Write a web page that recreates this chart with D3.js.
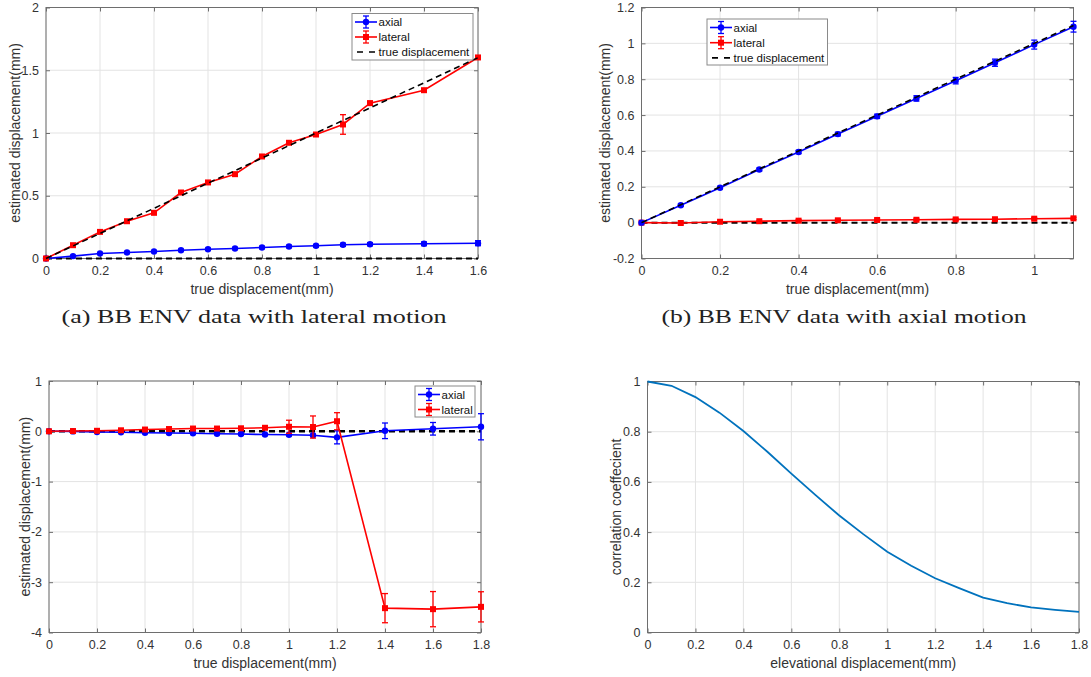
<!DOCTYPE html>
<html>
<head>
<meta charset="utf-8">
<script src="https://cdn.jsdelivr.net/npm/d3@7"></script>
<style>
  html, body { margin: 0; padding: 0; background: #fff; }
  svg { display: block; }
  text { font-family: "Liberation Sans", Arial, sans-serif; }
</style>
</head>
<body>
<svg id="fig" width="1091" height="677"></svg>
<script>
// ---- (a) lateral motion ----
const xA = [0, 0.1, 0.2, 0.3, 0.4, 0.5, 0.6, 0.7, 0.8, 0.9, 1.0, 1.1, 1.2, 1.4, 1.6];
const axialA = [0, 0.019, 0.040, 0.048, 0.056, 0.066, 0.074, 0.080, 0.088, 0.096, 0.101, 0.109, 0.114, 0.117, 0.122];
const axialErrA = [0, 0.005, 0.006, 0.006, 0.007, 0.007, 0.008, 0.008, 0.009, 0.009, 0.010, 0.012, 0.012, 0.015, 0.02];
const lateralA = [0, 0.106, 0.212, 0.297, 0.364, 0.526, 0.606, 0.672, 0.813, 0.922, 0.988, 1.068, 1.238, 1.341, 1.602];
const lateralErrA = [0, 0.008, 0.008, 0.008, 0.008, 0.01, 0.01, 0.01, 0.01, 0.012, 0.012, 0.078, 0.015, 0.012, 0.01];
const trueA = [0, 0.1, 0.2, 0.3, 0.4, 0.5, 0.6, 0.7, 0.8, 0.9, 1.0, 1.1, 1.2, 1.4, 1.6];
const zeroA = [0, 0, 0, 0, 0, 0, 0, 0, 0, 0, 0, 0, 0, 0, 0];
const xTicksA = [0, 0.2, 0.4, 0.6, 0.8, 1, 1.2, 1.4, 1.6];
const yTicksA = [0, 0.5, 1, 1.5, 2];

// ---- (b) axial motion ----
const xB = [0, 0.1, 0.2, 0.3, 0.4, 0.5, 0.6, 0.7, 0.8, 0.9, 1.0, 1.1];
const axialB = [0, 0.097, 0.195, 0.296, 0.394, 0.494, 0.593, 0.693, 0.792, 0.892, 0.993, 1.093];
const axialErrB = [0, 0.006, 0.007, 0.008, 0.009, 0.010, 0.012, 0.015, 0.018, 0.020, 0.025, 0.030];
const lateralB = [0, -0.002, 0.005, 0.008, 0.011, 0.013, 0.015, 0.016, 0.018, 0.019, 0.022, 0.024];
const lateralErrB = [0, 0.004, 0.004, 0.004, 0.005, 0.005, 0.005, 0.005, 0.005, 0.006, 0.006, 0.006];
const trueB = [0, 0.1, 0.2, 0.3, 0.4, 0.5, 0.6, 0.7, 0.8, 0.9, 1.0, 1.1];
const zeroB = [0, 0, 0, 0, 0, 0, 0, 0, 0, 0, 0, 0];
const xTicksB = [0, 0.2, 0.4, 0.6, 0.8, 1];
const yTicksB = [-0.2, 0, 0.2, 0.4, 0.6, 0.8, 1, 1.2];

// ---- (c) elevational motion ----
const xC = [0, 0.1, 0.2, 0.3, 0.4, 0.5, 0.6, 0.7, 0.8, 0.9, 1.0, 1.1, 1.2, 1.4, 1.6, 1.8];
const axialC = [0, -0.002, -0.015, -0.020, -0.028, -0.035, -0.040, -0.048, -0.055, -0.065, -0.070, -0.080, -0.120, 0.010, 0.050, 0.090];
const axialErrC = [0, 0.01, 0.01, 0.012, 0.012, 0.015, 0.015, 0.015, 0.018, 0.018, 0.02, 0.02, 0.13, 0.155, 0.125, 0.26];
const lateralC = [0, 0.005, 0.010, 0.020, 0.035, 0.045, 0.055, 0.055, 0.060, 0.070, 0.090, 0.085, 0.200, -3.516, -3.536, -3.490];
const lateralErrC = [0, 0.01, 0.01, 0.012, 0.015, 0.015, 0.02, 0.02, 0.025, 0.03, 0.13, 0.22, 0.17, 0.29, 0.35, 0.30];
const zeroC = [0, 0, 0, 0, 0, 0, 0, 0, 0, 0, 0, 0, 0, 0, 0, 0];
const xTicksC = [0, 0.2, 0.4, 0.6, 0.8, 1, 1.2, 1.4, 1.6, 1.8];
const yTicksC = [-4, -3, -2, -1, 0, 1];

// ---- (d) correlation vs elevational displacement ----
const xD = [0, 0.1, 0.2, 0.3, 0.4, 0.5, 0.6, 0.7, 0.8, 0.9, 1.0, 1.1, 1.2, 1.3, 1.4, 1.5, 1.6, 1.7, 1.8];
const corrD = [1.0, 0.983, 0.938, 0.876, 0.803, 0.720, 0.633, 0.548, 0.466, 0.392, 0.322, 0.266, 0.216, 0.177, 0.139, 0.117, 0.100, 0.090, 0.082];
const xTicksD = [0, 0.2, 0.4, 0.6, 0.8, 1, 1.2, 1.4, 1.6, 1.8];
const yTicksD = [0, 0.2, 0.4, 0.6, 0.8, 1];

const captions = ["(a) BB ENV data with lateral motion", "(b) BB ENV data with axial motion"];

const BLUE = "#0000ff", RED = "#ff0000", LINE = "#0072bd";
const AXIS = "#6e6e6e", TICKTXT = "#333333", GRID = "#e3e3e3";

const svg = d3.select("#fig");
const fmt = v => String(+v.toFixed(2));

function panel(opt) {
  const { box, xDom, yDom, xTicks, yTicks, xLabel, yLabel, yLabelX } = opt;
  const x = d3.scaleLinear().domain(xDom).range([box.x0, box.x1]);
  const y = d3.scaleLinear().domain(yDom).range([box.y1, box.y0]);
  const g = svg.append("g");

  // grid
  g.append("g").selectAll("line.gx").data(xTicks).join("line")
    .attr("x1", d => x(d)).attr("x2", d => x(d)).attr("y1", box.y0).attr("y2", box.y1)
    .attr("stroke", GRID).attr("stroke-width", 1);
  g.append("g").selectAll("line.gy").data(yTicks).join("line")
    .attr("y1", d => y(d)).attr("y2", d => y(d)).attr("x1", box.x0).attr("x2", box.x1)
    .attr("stroke", GRID).attr("stroke-width", 1);

  // axes (ticks pointing inward, mirrored on top/right)
  const styleAxis = sel => {
    sel.select(".domain").remove();
    sel.selectAll(".tick line").attr("stroke", AXIS);
    sel.selectAll(".tick text").attr("fill", TICKTXT).style("font-size", "12.5px");
  };
  g.append("g").attr("transform", `translate(0,${box.y1})`)
    .call(d3.axisBottom(x).tickValues(xTicks).tickFormat(fmt).tickSizeInner(-4).tickPadding(8))
    .call(styleAxis);
  g.append("g").attr("transform", `translate(0,${box.y0})`)
    .call(d3.axisTop(x).tickValues(xTicks).tickFormat("").tickSizeInner(-4))
    .call(styleAxis);
  g.append("g").attr("transform", `translate(${box.x0},0)`)
    .call(d3.axisLeft(y).tickValues(yTicks).tickFormat(fmt).tickSizeInner(-4).tickPadding(7))
    .call(styleAxis);
  g.append("g").attr("transform", `translate(${box.x1},0)`)
    .call(d3.axisRight(y).tickValues(yTicks).tickFormat("").tickSizeInner(-4))
    .call(styleAxis);

  g.append("rect").attr("x", box.x0).attr("y", box.y0)
    .attr("width", box.x1 - box.x0).attr("height", box.y1 - box.y0)
    .attr("fill", "none").attr("stroke", AXIS).attr("stroke-width", 1);

  g.append("text").attr("x", (box.x0 + box.x1) / 2).attr("y", box.y1 + 35)
    .attr("text-anchor", "middle").attr("fill", TICKTXT).style("font-size", "14px").text(xLabel);
  g.append("text").attr("transform", `translate(${yLabelX},${(box.y0 + box.y1) / 2}) rotate(-90)`)
    .attr("text-anchor", "middle").attr("dy", "0.35em").attr("fill", TICKTXT)
    .style("font-size", "14px").text(yLabel);

  return { g, x, y };
}

function dashed(p, xs, ys, width) {
  const line = d3.line().x((d, i) => p.x(xs[i])).y(d => p.y(d));
  p.g.append("path").attr("d", line(ys)).attr("fill", "none")
    .attr("stroke", "#000").attr("stroke-width", width).attr("stroke-dasharray", "6,4");
}

function errSeries(p, xs, ys, errs, color, shape) {
  const line = d3.line().x((d, i) => p.x(xs[i])).y(d => p.y(d));
  p.g.append("path").attr("d", line(ys)).attr("fill", "none")
    .attr("stroke", color).attr("stroke-width", 1.6);
  const pts = ys.map((v, i) => ({ x: xs[i], y: v, e: errs[i] }));
  const eb = p.g.append("g").attr("stroke", color).attr("stroke-width", 1.3);
  pts.filter(d => d.e > 0).forEach(d => {
    const cx = p.x(d.x), top = p.y(d.y + d.e), bot = p.y(d.y - d.e);
    eb.append("line").attr("x1", cx).attr("x2", cx).attr("y1", top).attr("y2", bot);
    eb.append("line").attr("x1", cx - 3).attr("x2", cx + 3).attr("y1", top).attr("y2", top);
    eb.append("line").attr("x1", cx - 3).attr("x2", cx + 3).attr("y1", bot).attr("y2", bot);
  });
  if (shape === "circle") {
    p.g.append("g").selectAll("circle").data(pts).join("circle")
      .attr("cx", d => p.x(d.x)).attr("cy", d => p.y(d.y)).attr("r", 3.2).attr("fill", color);
  } else {
    p.g.append("g").selectAll("rect").data(pts).join("rect")
      .attr("x", d => p.x(d.x) - 3).attr("y", d => p.y(d.y) - 3)
      .attr("width", 6).attr("height", 6).attr("fill", color);
  }
}

function legend(box, rows) {
  const g = svg.append("g");
  g.append("rect").attr("x", box.x).attr("y", box.y).attr("width", box.w).attr("height", box.h)
    .attr("fill", "#fff").attr("stroke", "#8a8a8a").attr("stroke-width", 1);
  rows.forEach((r, i) => {
    const cy = box.y + box.pad + i * box.step;
    const x0 = box.x + 3, x1 = box.x + 25, xm = (x0 + x1) / 2;
    if (r.type === "dash") {
      g.append("line").attr("x1", x0 + 2).attr("x2", x1).attr("y1", cy).attr("y2", cy)
        .attr("stroke", "#000").attr("stroke-width", 1.6).attr("stroke-dasharray", "6,6");
    } else {
      g.append("line").attr("x1", x0).attr("x2", x1).attr("y1", cy).attr("y2", cy)
        .attr("stroke", r.color).attr("stroke-width", 1.6);
      g.append("line").attr("x1", xm).attr("x2", xm).attr("y1", cy - 6).attr("y2", cy + 6)
        .attr("stroke", r.color).attr("stroke-width", 1.3);
      g.append("line").attr("x1", xm - 3).attr("x2", xm + 3).attr("y1", cy - 6).attr("y2", cy - 6)
        .attr("stroke", r.color).attr("stroke-width", 1.3);
      g.append("line").attr("x1", xm - 3).attr("x2", xm + 3).attr("y1", cy + 6).attr("y2", cy + 6)
        .attr("stroke", r.color).attr("stroke-width", 1.3);
      if (r.shape === "circle") g.append("circle").attr("cx", xm).attr("cy", cy).attr("r", 3.2).attr("fill", r.color);
      else g.append("rect").attr("x", xm - 3).attr("y", cy - 3).attr("width", 6).attr("height", 6).attr("fill", r.color);
    }
    g.append("text").attr("x", x1 + 1.5).attr("y", cy).attr("dy", "0.35em")
      .attr("fill", "#111").style("font-size", "11.5px").text(r.label);
  });
}

const legRows3 = [
  { label: "axial", color: BLUE, shape: "circle" },
  { label: "lateral", color: RED, shape: "square" },
  { label: "true displacement", type: "dash" }
];

// (a)
const pA = panel({ box: { x0: 46, x1: 478, y0: 7.5, y1: 258.5 }, xDom: [0, 1.6], yDom: [0, 2],
  xTicks: xTicksA, yTicks: yTicksA, xLabel: "true displacement(mm)",
  yLabel: "estimated displacement(mm)", yLabelX: 15 });
dashed(pA, xA, zeroA, 2);
errSeries(pA, xA, axialA, axialErrA, BLUE, "circle");
errSeries(pA, xA, lateralA, lateralErrA, RED, "square");
dashed(pA, xA, trueA, 1.6);
legend({ x: 352, y: 13.5, w: 121, h: 46.5, pad: 8.5, step: 15 }, legRows3);

// (b)
const pB = panel({ box: { x0: 641.5, x1: 1073.5, y0: 7.5, y1: 258.5 }, xDom: [0, 1.1], yDom: [-0.2, 1.2],
  xTicks: xTicksB, yTicks: yTicksB, xLabel: "true displacement(mm)",
  yLabel: "estimated displacement(mm)", yLabelX: 605 });
dashed(pB, xB, zeroB, 2);
errSeries(pB, xB, lateralB, lateralErrB, RED, "square");
errSeries(pB, xB, axialB, axialErrB, BLUE, "circle");
dashed(pB, xB, trueB, 1.6);
legend({ x: 707, y: 19, w: 120.5, h: 46, pad: 8.5, step: 15.2 }, legRows3);

// (c)
const pC = panel({ box: { x0: 49, x1: 481, y0: 381, y1: 632.5 }, xDom: [0, 1.8], yDom: [-4, 1],
  xTicks: xTicksC, yTicks: yTicksC, xLabel: "true displacement(mm)",
  yLabel: "estimated displacement(mm)", yLabelX: 25 });
dashed(pC, xC, zeroC, 2.6);
errSeries(pC, xC, axialC, axialErrC, BLUE, "circle");
errSeries(pC, xC, lateralC, lateralErrC, RED, "square");
legend({ x: 415, y: 386, w: 60, h: 31, pad: 8.5, step: 15 }, legRows3.slice(0, 2));

// (d)
const pD = panel({ box: { x0: 647.5, x1: 1079, y0: 381.5, y1: 632.5 }, xDom: [0, 1.8], yDom: [0, 1],
  xTicks: xTicksD, yTicks: yTicksD, xLabel: "elevational displacement(mm)",
  yLabel: "correlation coeffecient", yLabelX: 616 });
pD.g.append("path")
  .attr("d", d3.line().x((d, i) => pD.x(xD[i])).y(d => pD.y(d))(corrD))
  .attr("fill", "none").attr("stroke", LINE).attr("stroke-width", 1.8);

// captions
svg.append("text").attr("x", 254).attr("y", 323).attr("text-anchor", "middle")
  .attr("textLength", 385).attr("lengthAdjust", "spacingAndGlyphs")
  .style("font-family", "'Liberation Serif', 'DejaVu Serif', serif").style("font-size", "18px")
  .attr("fill", "#222").text(captions[0]);
svg.append("text").attr("x", 844).attr("y", 323).attr("text-anchor", "middle")
  .attr("textLength", 365).attr("lengthAdjust", "spacingAndGlyphs")
  .style("font-family", "'Liberation Serif', 'DejaVu Serif', serif").style("font-size", "18px")
  .attr("fill", "#222").text(captions[1]);
</script>
</body>
</html>
